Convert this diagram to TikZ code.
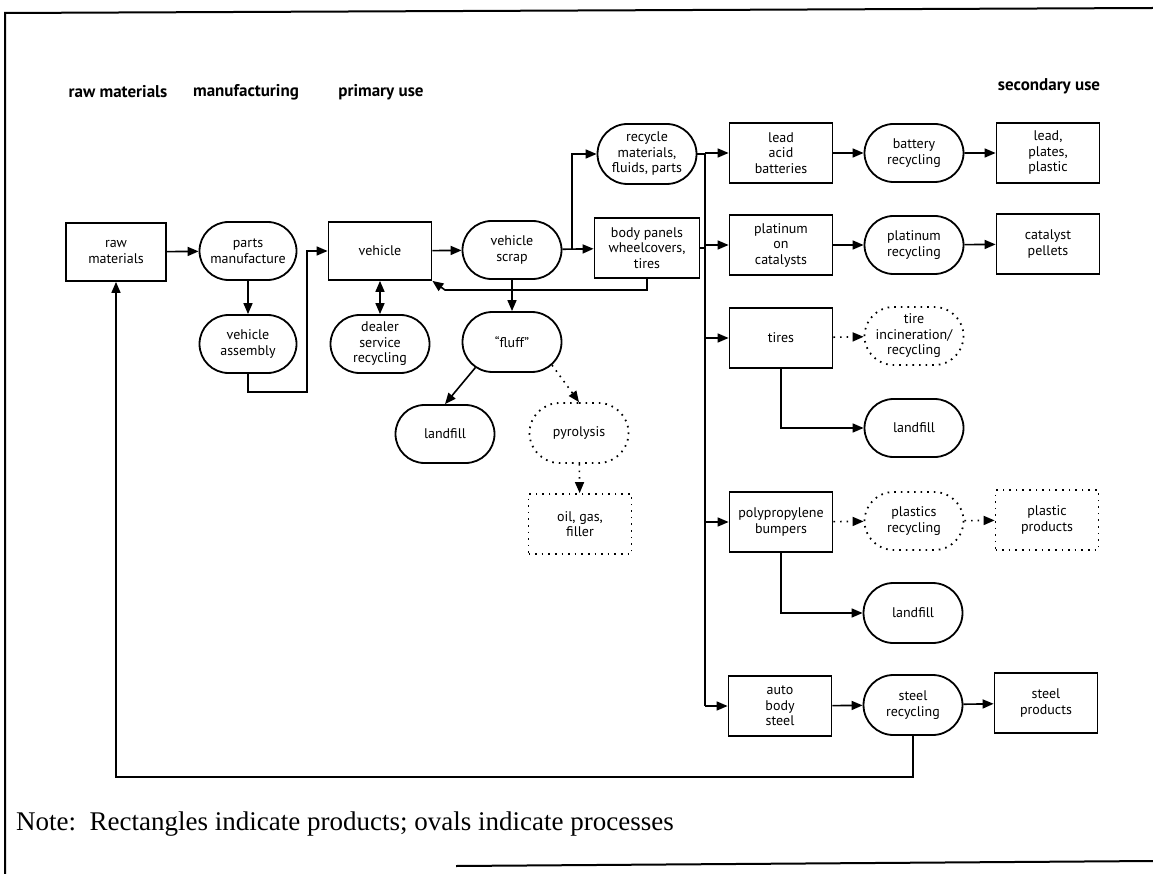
\documentclass[tikz,border=0pt]{standalone}
\usepackage{fontspec}
\setmainfont{PT Sans}
\newfontfamily\notefont{Liberation Serif}
\usetikzlibrary{arrows.meta,shapes.misc}

\tikzset{
  x=1pt, y=-1pt,
  base/.style={align=center, inner sep=2pt, font=\fontsize{14}{15.5}\selectfont, line width=1.8pt},
  prod/.style={base, draw, rectangle, minimum width=103pt, minimum height=60pt},
  proc/.style={base, draw, rounded rectangle, rounded rectangle arc length=180, minimum width=103pt, minimum height=58pt},
  dotprod/.style={prod, dash pattern=on 1.6pt off 5pt},
  dotproc/.style={proc, dash pattern=on 1.6pt off 5pt},
  head/.style={font=\fontsize{17}{19}\bfseries\selectfont, inner sep=0pt},
  arr/.style={line width=1.6pt, -{Triangle[length=11pt,width=9pt]}},
  dotarr/.style={arr, dash pattern=on 1.6pt off 5pt},
  wire/.style={line width=1.6pt},
  frame/.style={line width=2pt}
}

\begin{document}
\begin{tikzpicture}
\useasboundingbox (0,0) rectangle (1153,874);

% outer frame
\draw[frame] (5,874) -- (5,13) -- (1153,8);
\draw[frame] (456,866) -- (1153,861);

% column headings
\node[head] (h1) at (118,92) {raw materials};
\node[head] (h2) at (246,92) {manufacturing};
\node[head] (h3) at (381,92) {primary use};
\node[head] (h4) at (1049,86) {secondary use};

% primary chain
\node[prod, minimum width=100pt, minimum height=58pt] (rawm) at (116,252) {raw\\materials};
\node[proc, minimum width=101pt] (partsm) at (248,251) {parts\\manufacture};
\node[proc, minimum width=101pt] (vassem) at (248,344) {vehicle\\assembly};
\node[prod, minimum height=58pt] (vehicle) at (380,251) {vehicle};
\node[proc] (dealer) at (380,344) {dealer\\service\\recycling};
\node[proc] (vscrap) at (512,250) {vehicle\\scrap};
\node[proc, minimum height=60pt] (fluff) at (512,342) {“fluff”};
\node[proc] (landA) at (445,434) {landfill};
\node[dotproc, minimum height=60pt] (pyro) at (579,433) {pyrolysis};
\node[dotprod] (oil) at (580,524) {oil, gas,\\filler};
\node[proc, minimum height=60pt] (recyc) at (647,154) {recycle\\materials,\\fluids, parts};
\node[prod, minimum width=105pt] (body) at (647,248) {body panels\\wheelcovers,\\tires};

% secondary use
\node[prod] (lead) at (781,153) {lead\\acid\\batteries};
\node[proc] (battrec) at (914,153) {battery\\recycling};
\node[prod] (leadpl) at (1048,153) {lead,\\plates,\\plastic};
\node[prod] (plat) at (781,245) {platinum\\on\\catalysts};
\node[proc] (platrec) at (914,245) {platinum\\recycling};
\node[prod] (catal) at (1048,244) {catalyst\\pellets};
\node[prod] (tires) at (781,338) {tires};
\node[dotproc] (tireinc) at (914,336) {tire\\incineration/\\recycling};
\node[proc] (landB) at (914,428) {landfill};
\node[prod] (pp) at (781,522) {polypropylene\\bumpers};
\node[dotproc] (plasrec) at (914,521) {plastics\\recycling};
\node[dotprod] (plasprod) at (1047,520) {plastic\\products};
\node[proc, minimum height=60pt] (landC) at (913,613) {landfill};
\node[prod] (abs) at (780,706) {auto\\body\\steel};
\node[proc, minimum height=60pt] (steelrec) at (913,705) {steel\\recycling};
\node[prod] (steelprod) at (1046,703) {steel\\products};

% routing points
\coordinate (bus) at (705,153);
\coordinate (split) at (572,250);
\coordinate (asmlow) at (307,392);
\coordinate (ret) at (445,290);
\coordinate (fb) at (0,777);

% manufacturing and use
\draw[arr] (rawm) -- (partsm);
\draw[arr] (partsm) -- (vassem);
\draw[arr] (vassem.south) |- (asmlow) |- (vehicle.west);
\draw[line width=1.6pt, {Triangle[length=11pt,width=9pt]}-{Triangle[length=11pt,width=9pt]}] (vehicle) -- (dealer);
\draw[arr] (vehicle) -- (vscrap);
\draw[arr] (vscrap) -- (body);
\draw[arr] (split) |- (recyc.west);
\draw[arr] (vscrap) -- (fluff);
\draw[arr] (fluff.215) -- (landA.north);
\draw[dotarr] (fluff.330) -- (pyro.north);
\draw[dotarr] (pyro) -- (oil);
\draw[arr] (body.south) |- (ret) -- (vehicle.south east);

% distribution bus
\draw[wire] (recyc.east) -- (recyc.east -| bus);
\draw[wire] (body.east) -- (body.east -| bus);
\draw[wire] (bus) -- (bus |- abs.west);
\draw[arr] (bus) -- (lead.west);
\draw[arr] (bus |- plat.west) -- (plat.west);
\draw[arr] (bus |- tires.west) -- (tires.west);
\draw[arr] (bus |- pp.west) -- (pp.west);
\draw[arr] (bus |- abs.west) -- (abs.west);

% secondary processing
\draw[arr] (lead) -- (battrec);
\draw[arr] (battrec) -- (leadpl);
\draw[arr] (plat) -- (platrec);
\draw[arr] (platrec) -- (catal);
\draw[dotarr] (tires) -- (tireinc);
\draw[arr] (tires.south) |- (landB.west);
\draw[dotarr] (pp) -- (plasrec);
\draw[dotarr] (plasrec) -- (plasprod);
\draw[arr] (pp.south) |- (landC.west);
\draw[arr] (abs) -- (steelrec);
\draw[arr] (steelrec) -- (steelprod);

% steel returns to raw materials
\draw[arr] (steelrec.south) |- (rawm.south |- fb) -- (rawm.south);

% legend
\node[anchor=base west, inner sep=0pt, font=\notefont\fontsize{27}{31}\selectfont] (note) at (16,830)
  {Note:\ \ Rectangles indicate products; ovals indicate processes};
\end{tikzpicture}
\end{document}
